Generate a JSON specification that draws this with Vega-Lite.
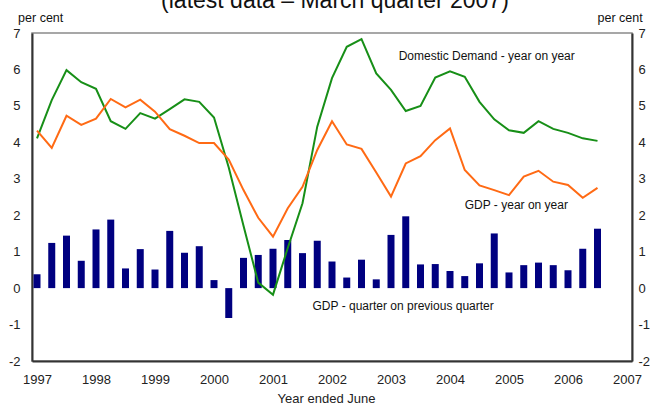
{
  "$schema": "https://vega.github.io/schema/vega-lite/v6.json",
  "width": 600,
  "height": 328,
  "autosize": {"type": "none"},
  "padding": {"left": 32, "top": 33, "right": 21, "bottom": 42},
  "background": "white",
  "config": {
    "view": {"stroke": "#8a8a8a", "strokeWidth": 1.5},
    "font": "Liberation Sans",
    "axis": {"grid": false, "ticks": false, "labelFont": "Liberation Sans", "labelFontSize": 13, "labelColor": "#222", "domainColor": "#333", "domainWidth": 2, "titleFont": "Liberation Sans", "titleFontWeight": "normal", "titleFontSize": 13, "titleColor": "#222"}
  },
  "datasets": {
    "series": [
      {"t": 1997.00, "q": 0.38, "dd": 4.11, "gdp": 4.32},
      {"t": 1997.25, "q": 1.24, "dd": 5.16, "gdp": 3.85},
      {"t": 1997.50, "q": 1.44, "dd": 5.98, "gdp": 4.73},
      {"t": 1997.75, "q": 0.75, "dd": 5.65, "gdp": 4.48},
      {"t": 1998.00, "q": 1.61, "dd": 5.47, "gdp": 4.65},
      {"t": 1998.25, "q": 1.88, "dd": 4.58, "gdp": 5.19},
      {"t": 1998.50, "q": 0.54, "dd": 4.37, "gdp": 4.96},
      {"t": 1998.75, "q": 1.07, "dd": 4.80, "gdp": 5.17},
      {"t": 1999.00, "q": 0.51, "dd": 4.65, "gdp": 4.84},
      {"t": 1999.25, "q": 1.57, "dd": 4.91, "gdp": 4.36},
      {"t": 1999.50, "q": 0.97, "dd": 5.18, "gdp": 4.18},
      {"t": 1999.75, "q": 1.15, "dd": 5.11, "gdp": 3.98},
      {"t": 2000.00, "q": 0.22, "dd": 4.68, "gdp": 3.98},
      {"t": 2000.25, "q": -0.82, "dd": 3.31, "gdp": 3.53},
      {"t": 2000.50, "q": 0.83, "dd": 1.71, "gdp": 2.69},
      {"t": 2000.75, "q": 0.91, "dd": 0.15, "gdp": 1.93},
      {"t": 2001.00, "q": 1.08, "dd": -0.18, "gdp": 1.41},
      {"t": 2001.25, "q": 1.32, "dd": 1.10, "gdp": 2.19},
      {"t": 2001.50, "q": 0.96, "dd": 2.33, "gdp": 2.78},
      {"t": 2001.75, "q": 1.30, "dd": 4.43, "gdp": 3.79},
      {"t": 2002.00, "q": 0.73, "dd": 5.76, "gdp": 4.58},
      {"t": 2002.25, "q": 0.29, "dd": 6.62, "gdp": 3.94},
      {"t": 2002.50, "q": 0.78, "dd": 6.83, "gdp": 3.82},
      {"t": 2002.75, "q": 0.24, "dd": 5.89, "gdp": 3.17},
      {"t": 2003.00, "q": 1.46, "dd": 5.44, "gdp": 2.51},
      {"t": 2003.25, "q": 1.97, "dd": 4.86, "gdp": 3.42},
      {"t": 2003.50, "q": 0.65, "dd": 5.00, "gdp": 3.62},
      {"t": 2003.75, "q": 0.66, "dd": 5.78, "gdp": 4.06},
      {"t": 2004.00, "q": 0.47, "dd": 5.95, "gdp": 4.38},
      {"t": 2004.25, "q": 0.33, "dd": 5.80, "gdp": 3.24},
      {"t": 2004.50, "q": 0.68, "dd": 5.11, "gdp": 2.82},
      {"t": 2004.75, "q": 1.50, "dd": 4.63, "gdp": 2.69},
      {"t": 2005.00, "q": 0.43, "dd": 4.33, "gdp": 2.55},
      {"t": 2005.25, "q": 0.63, "dd": 4.26, "gdp": 3.06},
      {"t": 2005.50, "q": 0.70, "dd": 4.58, "gdp": 3.22},
      {"t": 2005.75, "q": 0.63, "dd": 4.37, "gdp": 2.92},
      {"t": 2006.00, "q": 0.49, "dd": 4.26, "gdp": 2.83},
      {"t": 2006.25, "q": 1.08, "dd": 4.11, "gdp": 2.48},
      {"t": 2006.50, "q": 1.63, "dd": 4.04, "gdp": 2.75}
    ],
    "labels": [
      {"t": 2003.13, "v": 6.37, "label": "Domestic Demand - year on year"},
      {"t": 2004.25, "v": 2.28, "label": "GDP - year on year"},
      {"t": 2001.67, "v": -0.49, "label": "GDP - quarter on previous quarter"}
    ],
    "units": [
      {"t": 1996.68, "v": 7.3, "label": "per cent"},
      {"t": 2006.5, "v": 7.3, "label": "per cent"}
    ],
    "heading": [
      {"t": 2002.05, "v": 7.69, "label": "(latest data – March quarter 2007)"}
    ]
  },
  "resolve": {"axis": {"y": "independent"}},
  "layer": [
    {
      "data": {"name": "series"},
      "mark": {"type": "bar", "color": "#000080", "size": 7, "clip": true},
      "encoding": {
        "x": {"field": "t", "type": "quantitative", "scale": {"domain": [1997, 2007], "nice": false, "zero": false},
              "axis": {"orient": "bottom", "values": [1997, 1998, 1999, 2000, 2001, 2002, 2003, 2004, 2005, 2006, 2007], "format": "d", "labelPadding": 12, "title": "Year ended June", "titlePadding": 6, "titleX": 294, "labelFlush": false}},
        "y": {"field": "q", "type": "quantitative", "scale": {"domain": [-2, 7], "nice": false},
              "axis": {"orient": "left", "values": [-2, -1, 0, 1, 2, 3, 4, 5, 6, 7], "labelExpr": "'' + datum.value", "labelPadding": 12, "title": null}}
      }
    },
    {
      "mark": {"type": "rule", "color": "#333", "strokeWidth": 1.5},
      "encoding": {
        "y": {"datum": 0, "type": "quantitative", "axis": {"orient": "right", "values": [-2, -1, 0, 1, 2, 3, 4, 5, 6, 7], "labelExpr": "'' + datum.value", "labelPadding": 6, "labelAlign": "left", "title": null}}
      }
    },
    {
      "data": {"name": "series"},
      "mark": {"type": "line", "color": "#178f17", "strokeWidth": 2, "clip": true},
      "encoding": {
        "x": {"field": "t", "type": "quantitative"},
        "y": {"field": "dd", "type": "quantitative", "axis": null}
      }
    },
    {
      "data": {"name": "series"},
      "mark": {"type": "line", "color": "#ff6a14", "strokeWidth": 2, "clip": true},
      "encoding": {
        "x": {"field": "t", "type": "quantitative"},
        "y": {"field": "gdp", "type": "quantitative", "axis": null}
      }
    },
    {
      "data": {"name": "labels"},
      "mark": {"type": "text", "align": "left", "baseline": "middle", "fontSize": 12, "font": "Liberation Sans", "color": "#111"},
      "encoding": {
        "x": {"field": "t", "type": "quantitative"},
        "y": {"field": "v", "type": "quantitative", "axis": null},
        "text": {"field": "label"}
      }
    },
    {
      "data": {"name": "units"},
      "mark": {"type": "text", "align": "left", "baseline": "alphabetic", "fontSize": 12.5, "font": "Liberation Sans", "color": "#111"},
      "encoding": {
        "x": {"field": "t", "type": "quantitative"},
        "y": {"field": "v", "type": "quantitative", "axis": null},
        "text": {"field": "label"}
      }
    },
    {
      "data": {"name": "heading"},
      "mark": {"type": "text", "align": "center", "baseline": "alphabetic", "fontSize": 23, "font": "Liberation Sans", "color": "#111"},
      "encoding": {
        "x": {"field": "t", "type": "quantitative"},
        "y": {"field": "v", "type": "quantitative", "axis": null},
        "text": {"field": "label"}
      }
    }
  ]
}
